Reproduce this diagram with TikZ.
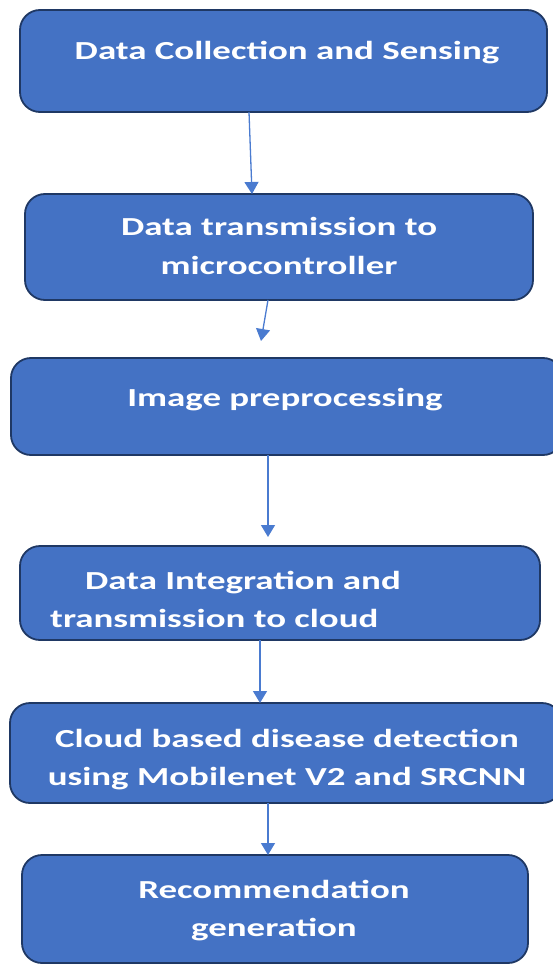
\documentclass[tikz,border=0pt]{standalone}
\usepackage{fontspec}
\newfontfamily\boxfont{Carlito}[FakeStretch=1.42]
\usetikzlibrary{arrows.meta}
\definecolor{boxfill}{HTML}{4472C4}
\definecolor{boxline}{HTML}{1F3864}
\definecolor{arrcol}{HTML}{4A7BD0}
\tikzset{
  stepbox/.style={draw=boxline, line width=1.8pt, fill=boxfill, rounded corners=20pt, inner sep=0pt},
  steptext/.style={text=white, font=\boxfont\bfseries\fontsize{26}{38}\selectfont, align=center, anchor=base, inner sep=0pt},
  arr/.style={draw=arrcol, line width=1.3pt, -{Triangle[length=12pt,width=14pt]}}
}
\begin{document}
\begin{tikzpicture}[x=1pt,y=-1pt]
\useasboundingbox (0,0) rectangle (553,965);
\clip (0,0) rectangle (553,965);
% boxes
\node[stepbox, minimum width=527pt, minimum height=102pt] (b1) at (283.5,61) {};
\node[stepbox, minimum width=508pt, minimum height=106pt] (b2) at (279,247) {};
\node[stepbox, minimum width=552pt, minimum height=97pt] (b3) at (287,406.5) {};
\node[stepbox, minimum width=520pt, minimum height=94pt] (b4) at (280,593) {};
\node[stepbox, minimum width=552pt, minimum height=100pt] (b5) at (286,753) {};
\node[stepbox, minimum width=506pt, minimum height=108pt] (b6) at (275,909) {};
% texts (base = baseline of last line)
\node[steptext] (t1) at (287,60) {Data Collection and Sensing};
\node[steptext] (t2) at (279,274) {Data transmission to\\microcontroller};
\node[steptext] (t3) at (285,406) {Image preprocessing};
\node[steptext, align=left, anchor=base west] (t4) at (50,627) {\hspace{35pt}Data Integration and\\transmission to cloud};
\node[steptext] (t5) at (287,785) {Cloud based disease detection\\using Mobilenet V2 and SRCNN};
\node[steptext] (t6) at (274,936) {Recommendation\\generation};
% arrows
\coordinate (a1s) at (249,112);
\coordinate (a1e) at (252,194);
\coordinate (a2s) at (268,300);
\coordinate (a2e) at (261,341);
\coordinate (a3s) at (268,455);
\coordinate (a3e) at (268,537);
\coordinate (a4s) at (260,640);
\coordinate (a4e) at (260,703);
\coordinate (a5s) at (268,803);
\coordinate (a5e) at (268,855);
\draw[arr] (a1s) -- (a1e);
\draw[arr] (a2s) -- (a2e);
\draw[arr] (a3s) -- (a3e);
\draw[arr] (a4s) -- (a4e);
\draw[arr] (a5s) -- (a5e);
\end{tikzpicture}
\end{document}
